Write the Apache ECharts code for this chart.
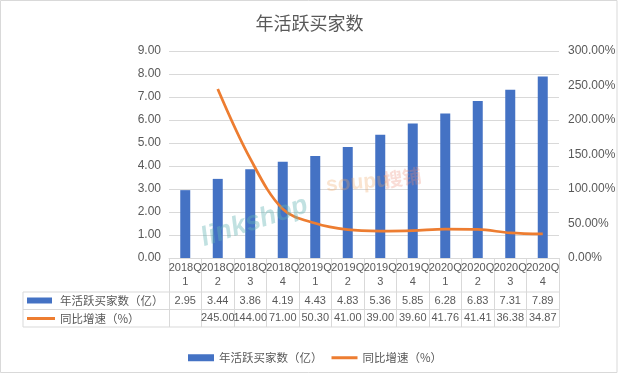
<!DOCTYPE html>
<html>
<head>
<meta charset="utf-8">
<script src="https://cdn.jsdelivr.net/npm/echarts@6/dist/echarts.min.js"></script>
<style>html,body{margin:0;padding:0;background:#fff}#c{width:619px;height:374px}</style>
</head>
<body>
<div id="c"></div>
<script>
var categories = ['2018Q1','2018Q2','2018Q3','2018Q4','2019Q1','2019Q2','2019Q3','2019Q4','2020Q1','2020Q2','2020Q3','2020Q4'];
var buyers = [2.95, 3.44, 3.86, 4.19, 4.43, 4.83, 5.36, 5.85, 6.28, 6.83, 7.31, 7.89];
var growth = [null, 245.00, 144.00, 71.00, 50.30, 41.00, 39.00, 39.60, 41.76, 41.41, 36.38, 34.87];
var barName = '年活跃买家数（亿）';
var lineName = '同比增速（%）';
var titleText = '年活跃买家数';

var FONT = '"Liberation Sans","Noto Sans CJK SC",sans-serif';
var CJK = '"Noto Sans CJK SC",sans-serif';
var TXT = '#595959';
var GRID = '#D9D9D9';
var BLUE = '#4472C4';
var ORANGE = '#ED7D31';

var chart = echarts.init(document.getElementById('c'), null, {renderer: 'canvas'});

function fmtTable(arr) {
  return function (v, i) { return arr[i] == null ? '' : arr[i].toFixed(2); };
}

var option = {
  backgroundColor: '#fff',
  animation: false,
  textStyle: {fontFamily: FONT},
  title: {
    text: titleText, left: 'center', top: 9,
    textStyle: {fontFamily: CJK, fontSize: 18, fontWeight: 'normal', color: TXT}
  },
  legend: {
    left: 183, top: 347, itemWidth: 26, itemHeight: 7, itemGap: 9, symbolKeepAspect: true,
    textStyle: {fontFamily: CJK, fontSize: 11.5, color: TXT},
    data: [
      {name: barName, icon: 'rect'},
      {name: lineName, icon: 'path://M0,0L26,0L26,3L0,3Z'}
    ]
  },
  grid: {left: 169, right: 60, top: 51, bottom: 116, containLabel: false, outerBoundsMode: 'none'},
  xAxis: [
    {
      type: 'category', data: categories, position: 'bottom',
      axisLine: {lineStyle: {color: GRID}},
      axisTick: {show: true, length: 69, interval: 0, lineStyle: {color: GRID}},
      axisLabel: {interval: 0, margin: 3, fontSize: 11, lineHeight: 14, color: TXT, fontFamily: FONT,
        formatter: function (v) { return v.slice(0, 5) + '\n' + v.slice(5); }}
    },
    {
      type: 'category', data: categories, position: 'bottom', offset: 34,
      axisLine: {show: false}, axisTick: {show: false},
      axisLabel: {interval: 0, margin: 0, fontSize: 11, lineHeight: 17, color: TXT, fontFamily: FONT,
        formatter: fmtTable(buyers)}
    },
    {
      type: 'category', data: categories, position: 'bottom', offset: 51,
      axisLine: {show: false}, axisTick: {show: false},
      axisLabel: {interval: 0, margin: 0, fontSize: 11, lineHeight: 18, color: TXT, fontFamily: FONT,
        formatter: fmtTable(growth)}
    }
  ],
  yAxis: [
    {
      type: 'value', min: 0, max: 9, interval: 1,
      axisLine: {show: false}, axisTick: {show: false},
      splitLine: {lineStyle: {color: GRID}},
      axisLabel: {margin: 8, fontSize: 12, color: TXT, fontFamily: FONT,
        formatter: function (v) { return v.toFixed(2); }}
    },
    {
      type: 'value', min: 0, max: 300, interval: 50, position: 'right',
      axisLine: {show: false}, axisTick: {show: false}, splitLine: {show: false},
      axisLabel: {margin: 9, fontSize: 12, color: TXT, fontFamily: FONT,
        formatter: function (v) { return v.toFixed(2) + '%'; }}
    }
  ],
  series: [
    {
      name: barName, type: 'bar', data: buyers, xAxisIndex: 0, yAxisIndex: 0,
      barWidth: 10, itemStyle: {color: BLUE}
    },
    {
      name: lineName, type: 'line', data: growth, xAxisIndex: 0, yAxisIndex: 1,
      smooth: 0.35, symbol: 'none', showSymbol: false, connectNulls: false,
      lineStyle: {color: ORANGE, width: 2.75}, itemStyle: {color: ORANGE}
    }
  ],
  graphic: [
    {type: 'rect', shape: {x: 0.5, y: 0.5, width: 616.5, height: 372}, style: {fill: 'none', stroke: GRID, lineWidth: 1}, silent: true, z: -1},
    {type: 'line', shape: {x1: 23, y1: 292, x2: 559, y2: 292}, style: {stroke: GRID, lineWidth: 1}, silent: true},
    {type: 'line', shape: {x1: 23, y1: 309.5, x2: 559, y2: 309.5}, style: {stroke: GRID, lineWidth: 1}, silent: true},
    {type: 'line', shape: {x1: 23, y1: 327, x2: 559, y2: 327}, style: {stroke: GRID, lineWidth: 1}, silent: true},
    {type: 'line', shape: {x1: 23, y1: 292, x2: 23, y2: 327}, style: {stroke: GRID, lineWidth: 1}, silent: true},
    {type: 'rect', shape: {x: 27, y: 297.5, width: 25, height: 6}, style: {fill: BLUE}, silent: true},
    {type: 'text', x: 60, y: 300.5, style: {text: barName, fontFamily: CJK, fontSize: 11.5, fill: TXT, verticalAlign: 'middle'}, silent: true},
    {type: 'line', shape: {x1: 27, y1: 318.5, x2: 55, y2: 318.5}, style: {stroke: ORANGE, lineWidth: 3}, silent: true},
    {type: 'text', x: 60, y: 318.5, style: {text: lineName, fontFamily: CJK, fontSize: 11.5, fill: TXT, verticalAlign: 'middle'}, silent: true},
    {type: 'text', x: 206, y: 252, rotation: 0.32, style: {text: 'linkshop', fontFamily: '"Liberation Sans",sans-serif', fontWeight: 'bold', fontStyle: 'italic', fontSize: 27, fill: 'rgba(100,180,180,0.4)', verticalAlign: 'bottom'}, silent: true, z: 10},
    {type: 'text', x: 327, y: 196, rotation: 0.08, style: {text: 'soupu', fontFamily: '"Liberation Sans",sans-serif', fontWeight: 'bold', fontSize: 21, fill: 'rgba(240,165,100,0.3)', verticalAlign: 'bottom'}, silent: true, z: 10},
    {type: 'text', x: 385, y: 190, rotation: 0.15, style: {text: '搜铺', fontFamily: CJK, fontWeight: 'bold', fontSize: 19, fill: 'rgba(235,140,120,0.3)', verticalAlign: 'bottom'}, silent: true, z: 10}
  ]
};
chart.setOption(option);
</script>
</body>
</html>
